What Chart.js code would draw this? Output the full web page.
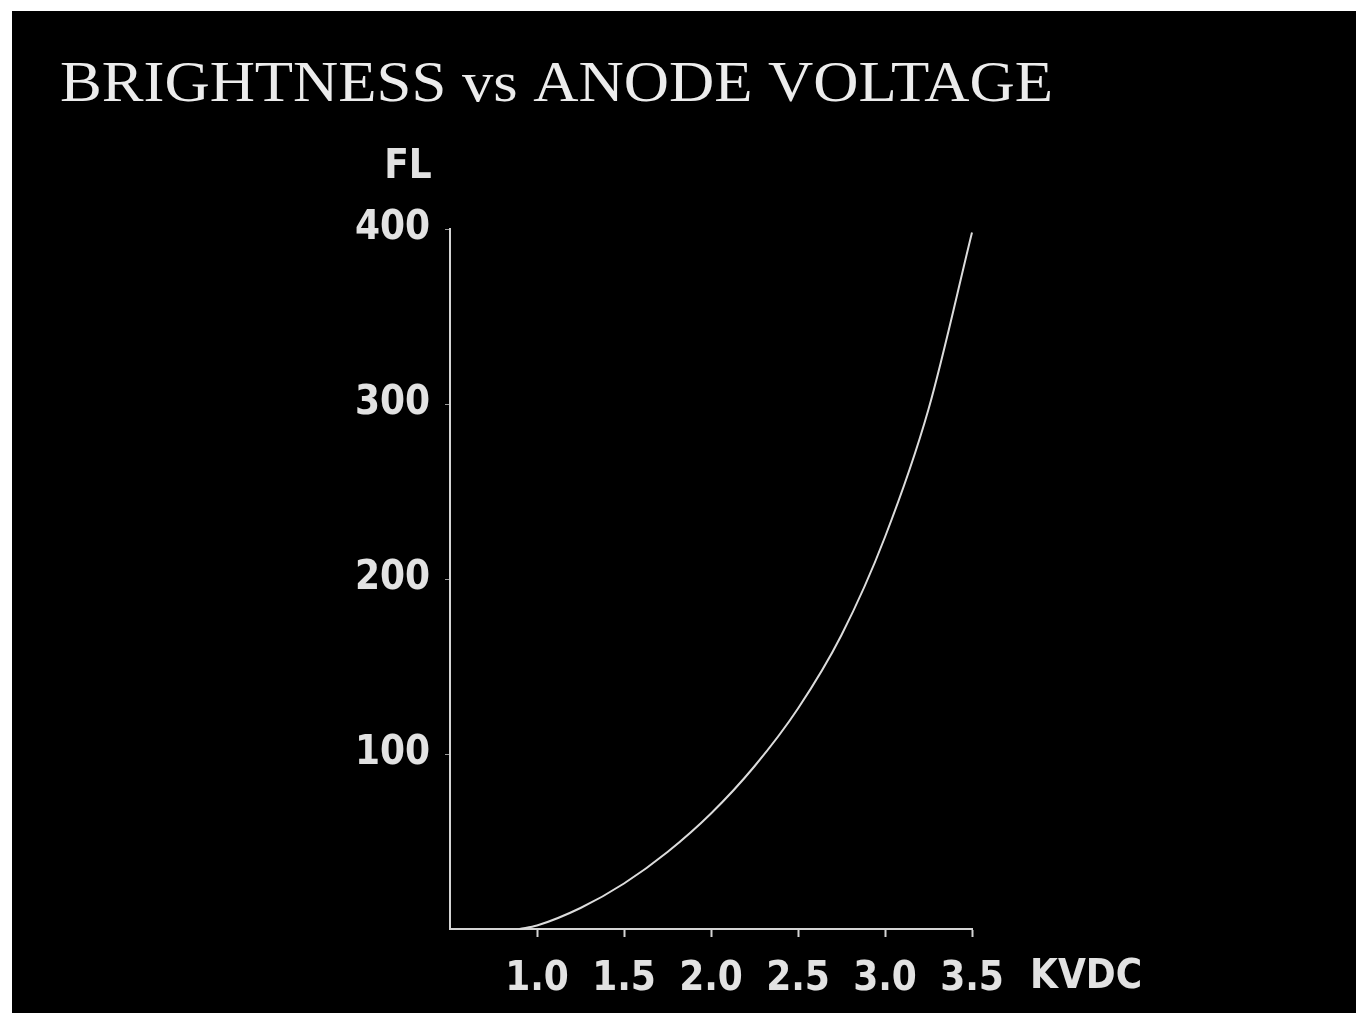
<!DOCTYPE html>
<html>
<head>
<meta charset="utf-8">
<script src="https://cdn.jsdelivr.net/npm/chart.js@4.4.1/dist/chart.umd.min.js"></script>
<style>
  body { margin: 0; background: #fff; }
  #box { position: absolute; left: 12px; top: 11px; width: 1344px; height: 1002px; background: #000; }
  #wrap { position: absolute; left: 0; top: 0; width: 1361px; height: 1013px; }
</style>
</head>
<body>
<div id="box"></div>
<div id="wrap"><canvas id="chart" width="1361" height="1013"></canvas></div>
<script>
// Brightness vs anode voltage
const titleText = 'BRIGHTNESS vs ANODE VOLTAGE';
const yTitle = 'FL';
const xTitle = 'KVDC';
const voltage = [0.9, 1.0, 1.25, 1.5, 1.75, 2.0, 2.25, 2.5, 2.75, 3.0, 3.25, 3.5];
const brightness = [0, 2, 12, 26, 44, 66, 93, 126, 168, 224, 297, 398];
const xTicks = [0.5, 1.0, 1.5, 2.0, 2.5, 3.0, 3.5];
const yTicks = [0, 100, 200, 300, 400];

const ink = '#e2e2e2';
const fontFamily = "'Liberation Sans Narrow', 'DejaVu Sans Condensed', sans-serif";
const tickFont = { family: fontFamily, size: 40, weight: 'bold' };

const points = voltage.map((v, i) => ({ x: v, y: brightness[i] }));

// titles drawn around the chart area
const textPlugin = {
    id: 'textPlugin',
    afterDraw(chart) {
        const ctx = chart.ctx;
        const area = chart.chartArea;
        ctx.save();
        ctx.fillStyle = '#ececec';
        ctx.textAlign = 'left';
        ctx.textBaseline = 'alphabetic';
        ctx.font = '58px "Liberation Serif", "DejaVu Serif", serif';
        const w = ctx.measureText(titleText).width;
        ctx.save();
        ctx.translate(60, 101);
        ctx.scale(993 / w, 1);
        ctx.fillText(titleText, 0, 0);
        ctx.restore();

        ctx.fillStyle = ink;
        ctx.font = 'bold 40px ' + fontFamily;
        ctx.textAlign = 'center';
        ctx.fillText(yTitle, area.left - 42, area.top - 51);
        ctx.textAlign = 'left';
        ctx.fillText(xTitle, area.right + 58, area.bottom + 59);
        ctx.restore();
    }
};

const ctx = document.getElementById('chart').getContext('2d');
const chart = new Chart(ctx, {
    type: 'line',
    data: {
        datasets: [{
            data: points,
            borderColor: '#dcdcdc',
            borderWidth: 2,
            pointRadius: 0,
            cubicInterpolationMode: 'monotone',
            fill: false,
            clip: false
        }]
    },
    options: {
        responsive: false,
        animation: false,
        events: [],
        layout: { padding: { left: 0, top: 229, right: 389, bottom: 0 } },
        plugins: {
            legend: { display: false },
            title: { display: false },
            tooltip: { enabled: false }
        },
        scales: {
            x: {
                type: 'linear',
                min: xTicks[0],
                max: xTicks[xTicks.length - 1],
                afterBuildTicks: (scale) => { scale.ticks = xTicks.map(v => ({ value: v })); },
                afterFit: (scale) => { scale.height = 84; },
                border: { color: '#d4d4d4', width: 2 },
                grid: {
                    drawOnChartArea: false,
                    tickLength: 8,
                    tickWidth: 2,
                    tickColor: (c) => c.tick && c.tick.value === xTicks[0] ? 'rgba(0,0,0,0)' : '#d4d4d4'
                },
                ticks: {
                    color: ink,
                    font: tickFont,
                    padding: 19,
                    maxRotation: 0,
                    callback: (v) => v === xTicks[0] ? '' : v.toFixed(1)
                }
            },
            y: {
                min: yTicks[0],
                max: yTicks[yTicks.length - 1],
                afterBuildTicks: (scale) => { scale.ticks = yTicks.map(v => ({ value: v })); },
                afterFit: (scale) => { scale.width = 450; },
                border: { color: '#d4d4d4', width: 2 },
                grid: {
                    drawOnChartArea: false,
                    tickLength: 5,
                    tickWidth: 1,
                    tickColor: (c) => c.tick && c.tick.value === 0 ? 'rgba(0,0,0,0)' : '#9a9a9a'
                },
                ticks: {
                    color: ink,
                    font: tickFont,
                    padding: 15,
                    callback: (v) => v === 0 ? '' : String(v)
                }
            }
        }
    },
    plugins: [textPlugin]
});
</script>
</body>
</html>
